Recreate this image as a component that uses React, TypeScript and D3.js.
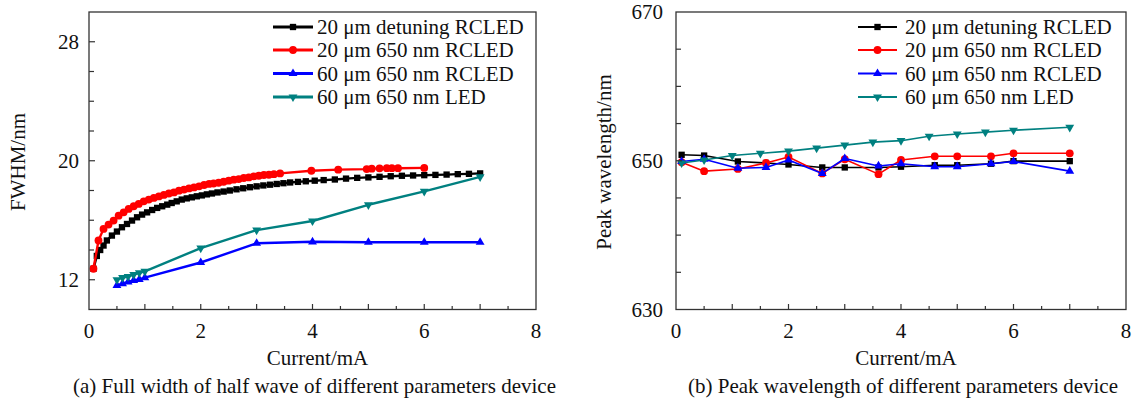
import React from "react";
import * as d3 from "d3";

// canvas
const W = 1134;
const H = 401;
const FONT = "'Liberation Serif', 'Times New Roman', serif";

// legend names (same four devices in both panels)
const names = [
  "20 μm detuning RCLED",
  "20 μm 650 nm RCLED",
  "60 μm 650 nm RCLED",
  "60 μm 650 nm LED",
];
const colors = ["#000000", "#ff0000", "#0000ff", "#008080"];

// ---- (a) FWHM vs current ----
const fwhmDetuneI = [
  0.08, 0.14, 0.2, 0.26, 0.32, 0.41, 0.5, 0.59, 0.68, 0.77, 0.86, 0.95, 1.04,
  1.13, 1.22, 1.31, 1.4, 1.48, 1.57, 1.66, 1.75, 1.84, 1.93, 2.02, 2.11, 2.2,
  2.3, 2.41, 2.52, 2.64, 2.76, 2.88, 3.0, 3.12, 3.24, 3.36, 3.48, 3.6, 3.74,
  3.88, 4.04, 4.2, 4.4, 4.6, 4.8, 5.0, 5.2, 5.4, 5.6, 5.8, 6.0, 6.2, 6.4, 6.6,
  6.8, 7.0,
];
const fwhmDetune = [
  12.74, 13.6, 14.0, 14.3, 14.64, 14.97, 15.24, 15.53, 15.75, 15.98, 16.2,
  16.38, 16.53, 16.69, 16.83, 16.94, 17.05, 17.16, 17.27, 17.39, 17.47, 17.54,
  17.61, 17.67, 17.74, 17.8, 17.87, 17.93, 18.0, 18.08, 18.15, 18.22, 18.28,
  18.34, 18.39, 18.44, 18.49, 18.54, 18.58, 18.62, 18.66, 18.7, 18.74, 18.8,
  18.85, 18.88, 18.92, 18.96, 18.99, 19.01, 19.03, 19.05, 19.07, 19.1, 19.12,
  19.15,
];

const fwhm20I = [
  0.08, 0.17, 0.26, 0.35, 0.44, 0.53, 0.62, 0.71, 0.8, 0.89, 0.98, 1.07, 1.16,
  1.25, 1.34, 1.43, 1.52, 1.61, 1.7, 1.79, 1.88, 1.97, 2.06, 2.15, 2.23, 2.32,
  2.41, 2.5, 2.59, 2.68, 2.77, 2.86, 2.95, 3.04, 3.13, 3.22, 3.31, 3.42, 3.98,
  4.46, 4.97, 5.06, 5.2, 5.33, 5.42, 5.53, 6.0,
];
const fwhm20 = [
  12.74, 14.64, 15.42, 15.71, 15.98, 16.31, 16.53, 16.76, 16.94, 17.1, 17.27,
  17.39, 17.5, 17.6, 17.7, 17.8, 17.87, 17.99, 18.06, 18.14, 18.21, 18.28,
  18.37, 18.44, 18.47, 18.52, 18.59, 18.66, 18.73, 18.77, 18.84, 18.88, 18.95,
  18.99, 19.04, 19.06, 19.1, 19.15, 19.33, 19.4, 19.44, 19.47, 19.49, 19.5,
  19.5, 19.5, 19.52,
];

const fwhm60I = [0.5, 0.6, 0.7, 0.8, 0.9, 1.0, 2, 3, 4, 5, 6, 7];
const fwhm60 = [11.62, 11.74, 11.85, 11.96, 12.02, 12.14, 13.16, 14.45, 14.55, 14.52, 14.52, 14.52];
const fwhmLed = [12.0, 12.14, 12.22, 12.35, 12.47, 12.56, 14.13, 15.34, 15.95, 17.04, 17.94, 18.92];

// ---- (b) peak wavelength vs current ----
const peakI = [0.1, 0.5, 1.1, 1.6, 2.0, 2.6, 3.0, 3.6, 4.0, 4.6, 5.0, 5.6, 6.0, 7.0];
const peakDetune = [650.8, 650.7, 649.9, 649.7, 649.5, 649.1, 649.1, 649.1, 649.2, 649.4, 649.4, 649.6, 649.95, 649.95];
const peak20 = [649.8, 648.6, 648.9, 649.7, 650.5, 648.3, 650.2, 648.2, 650.1, 650.6, 650.6, 650.6, 651.0, 651.0];
const peak60 = [649.9, 650.2, 649.0, 649.1, 650.1, 648.3, 650.3, 649.3, 649.6, 649.2, 649.2, 649.6, 649.9, 648.6];
const peakLedI = [0.1, 0.5, 1.0, 1.5, 2.0, 2.5, 3.0, 3.5, 4.0, 4.5, 5.0, 5.5, 6.0, 7.0];
const peakLed = [649.7, 650.1, 650.7, 651.0, 651.3, 651.7, 652.1, 652.5, 652.7, 653.3, 653.6, 653.85, 654.1, 654.5];

// axis ticks
const xTicks = [0, 2, 4, 6, 8];
const fwhmTicks = [12, 20, 28];
const peakTicks = [630, 650, 670];

const symbols = [d3.symbolSquare, d3.symbolCircle, d3.symbolTriangle, d3.symbolTriangle];
const symSize = [40, 48, 34, 34];
const symRot = [0, 0, 0, 180];

type Series = { xs: number[]; ys: number[] };

type PanelProps = {
  x0: number;
  x1: number;
  yDomain: [number, number];
  yTicks: number[];
  yMinorStep: number;
  yTitle: string;
  titleX: number;
  labelGap: number;
  caption: string;
  series: Series[];
  lineW: number;
  legend: { lineX0: number; lineX1: number; textX: number; lineW: number };
};

const TOP = 12;
const BOTTOM = 309.5;

function Panel(p: PanelProps) {
  const x = d3.scaleLinear().domain([0, 8]).range([p.x0, p.x1]);
  const y = d3.scaleLinear().domain(p.yDomain).range([BOTTOM, TOP]);

  const halfTicks = d3.range(0.5, 8, 0.5);
  const yMinor = d3.range(p.yDomain[0] + p.yMinorStep, p.yDomain[1], p.yMinorStep);
  const cx = (p.x0 + p.x1) / 2;
  const legendRows = [27, 50, 73.5, 97];

  return (
    <g>
      {/* series, drawn in legend order */}
      {p.series.map((s, k) => {
        const pts = s.xs.map((v, i) => [x(v), y(s.ys[i])] as [number, number]);
        const path = d3.line()(pts) || "";
        const sym = d3.symbol().type(symbols[k]).size(symSize[k])() || "";
        return (
          <g key={k}>
            <path d={path} fill="none" stroke={colors[k]} strokeWidth={p.lineW} strokeLinejoin="round" />
            {pts.map((q, i) => (
              <path
                key={i}
                d={sym}
                fill={colors[k]}
                transform={`translate(${q[0]},${q[1]}) rotate(${symRot[k]})`}
              />
            ))}
          </g>
        );
      })}

      {/* frame */}
      <rect
        x={p.x0}
        y={TOP}
        width={p.x1 - p.x0}
        height={BOTTOM - TOP}
        fill="none"
        stroke="#333"
        strokeWidth={1.3}
      />

      {/* x ticks */}
      {halfTicks.map((t) => (
        <line
          key={t}
          x1={x(t)}
          x2={x(t)}
          y1={BOTTOM}
          y2={BOTTOM - (Number.isInteger(t) ? 5.5 : 3.5)}
          stroke="#333"
          strokeWidth={1.2}
        />
      ))}
      {xTicks.map((t) => (
        <text key={t} x={x(t)} y={338} textAnchor="middle" fontSize={21} fontFamily={FONT} fill="#111">
          {t}
        </text>
      ))}

      {/* y ticks */}
      {yMinor.map((t) => (
        <line
          key={t}
          x1={p.x0}
          x2={p.x0 + (p.yTicks.includes(t) ? 6 : 5)}
          y1={y(t)}
          y2={y(t)}
          stroke="#333"
          strokeWidth={1.2}
        />
      ))}
      {p.yTicks.map((t) => (
        <text
          key={t}
          x={p.x0 - p.labelGap}
          y={y(t)}
          dy="0.35em"
          textAnchor="end"
          fontSize={21}
          fontFamily={FONT}
          fill="#111"
        >
          {t}
        </text>
      ))}

      {/* axis titles */}
      <text x={cx + 5} y={365} textAnchor="middle" fontSize={21} fontFamily={FONT} fill="#111">
        Current/mA
      </text>
      <text
        transform={`translate(${p.titleX},162) rotate(-90)`}
        dy="0.35em"
        textAnchor="middle"
        fontSize={21}
        fontFamily={FONT}
        fill="#111"
      >
        {p.yTitle}
      </text>
      <text x={cx + 2} y={393} textAnchor="middle" fontSize={21} fontFamily={FONT} fill="#111">
        {p.caption}
      </text>

      {/* legend */}
      {names.map((n, k) => {
        const ly = legendRows[k];
        const mx = (p.legend.lineX0 + p.legend.lineX1) / 2;
        const sym = d3.symbol().type(symbols[k]).size(symSize[k])() || "";
        return (
          <g key={n}>
            <line
              x1={p.legend.lineX0}
              x2={p.legend.lineX1}
              y1={ly}
              y2={ly}
              stroke={colors[k]}
              strokeWidth={p.legend.lineW}
            />
            <path d={sym} fill={colors[k]} transform={`translate(${mx},${ly}) rotate(${symRot[k]})`} />
            <text x={p.legend.textX} y={ly} dy="0.35em" fontSize={21} fontFamily={FONT} fill="#111">
              {n}
            </text>
          </g>
        );
      })}
    </g>
  );
}

export default function App() {
  const fwhmSeries: Series[] = [
    { xs: fwhmDetuneI, ys: fwhmDetune },
    { xs: fwhm20I, ys: fwhm20 },
    { xs: fwhm60I, ys: fwhm60 },
    { xs: fwhm60I, ys: fwhmLed },
  ];
  const peakSeries: Series[] = [
    { xs: peakI, ys: peakDetune },
    { xs: peakI, ys: peak20 },
    { xs: peakI, ys: peak60 },
    { xs: peakLedI, ys: peakLed },
  ];

  return (
    <svg
      width={W}
      height={H}
      style={{ position: "absolute", left: 0, top: 0, background: "#fff" }}
    >
      <Panel
        x0={89}
        x1={536}
        yDomain={[10, 30]}
        yTicks={fwhmTicks}
        yMinorStep={2}
        yTitle="FWHM/nm"
        titleX={18}
        labelGap={10}
        caption="(a) Full width of half wave of different parameters device"
        series={fwhmSeries}
        lineW={2.4}
        legend={{ lineX0: 273, lineX1: 313, textX: 317, lineW: 3 }}
      />
      <Panel
        x0={676}
        x1={1126}
        yDomain={[630, 670]}
        yTicks={peakTicks}
        yMinorStep={5}
        yTitle="Peak wavelength/nm"
        titleX={604}
        labelGap={13}
        caption="(b) Peak wavelength of different parameters device"
        series={peakSeries}
        lineW={1.6}
        legend={{ lineX0: 858, lineX1: 897, textX: 905, lineW: 2 }}
      />
    </svg>
  );
}
